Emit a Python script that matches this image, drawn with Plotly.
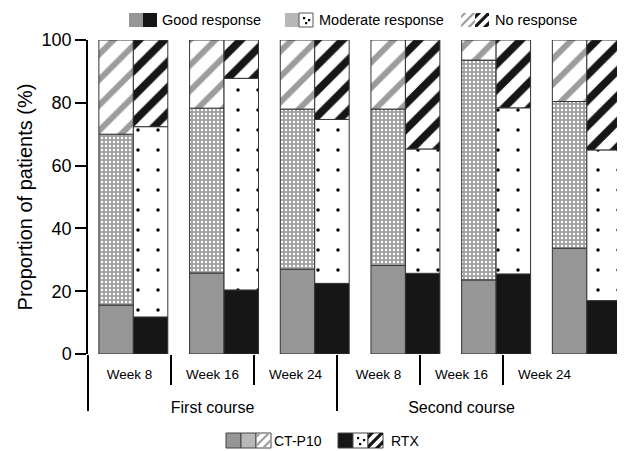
import numpy as np
import plotly.graph_objects as go

# ---------------- data ----------------
course_names = ["First course", "Second course"]
week_names = ["Week 8", "Week 16", "Week 24"]
ct_good = [15.6, 25.8, 27.0, 28.2, 23.6, 33.7]
ct_moderate = [54.4, 52.5, 51.0, 49.8, 70.0, 46.7]
ct_none = [30.0, 21.7, 22.0, 22.0, 6.4, 19.6]
rtx_good = [11.8, 20.4, 22.5, 25.7, 25.5, 17.0]
rtx_moderate = [60.6, 67.4, 52.2, 39.6, 52.9, 48.0]
rtx_none = [27.6, 12.2, 25.3, 34.7, 21.6, 35.0]
y_ticks = [0, 20, 40, 60, 80, 100]
y_title = "Proportion of patients (%)"
response_labels = ["Good response", "Moderate response", "No response"]
arm_labels = ["CT-P10", "RTX"]

# ---------------- geometry ----------------
OFF = 8  # page body margin
W, H = 625 - OFF, 451 - OFF
ML, MR, MT, MB = 88 - OFF, 1, 40 - OFF, 97
PW, PH = W - ML - MR, H - MT - MB
FONT = "Liberation Sans, Arial, Helvetica, sans-serif"
EDGE = "#333333"
GREY = "#969696"
BLACK = "#161616"
CELL = 83.0  # width of one label cell of the category table under the bars

xcat = [[c for c in course_names for _ in week_names], week_names * 2]
n_cells = len(xcat[1])
cell_centers = list(np.arange(n_cells) + 0.5)
cell_bounds = [i for i in range(1, n_cells) if i % len(week_names) != 0]
course_bounds = [i * len(week_names) for i in range(len(course_names))]
course_centers = [i * len(week_names) + len(week_names) / 2 for i in range(len(course_names))]

styles = {
    "ct_good": dict(color=GREY),
    "ct_mod": dict(color="#a0a0a0",
                   pattern=dict(shape=".", bgcolor="#a0a0a0", fgcolor="white",
                                fgopacity=1, size=4, solidity=0.3)),
    "ct_none": dict(color="white",
                    pattern=dict(shape="/", bgcolor="white", fgcolor="#9c9c9c",
                                 fgopacity=1, size=18, solidity=0.33)),
    "rtx_good": dict(color=BLACK),
    "rtx_mod": dict(color="white",
                    pattern=dict(shape=".", bgcolor="white", fgcolor="black",
                                 fgopacity=1, size=20, solidity=0.024)),
    "rtx_none": dict(color="white",
                     pattern=dict(shape="/", bgcolor="white", fgcolor=BLACK,
                                  fgopacity=1, size=18, solidity=0.42)),
}

fig = go.Figure()


def add_stack(values_list, keys, group):
    base = np.zeros(len(values_list[0]))
    for vals, key in zip(values_list, keys):
        vals = np.asarray(vals, dtype=float)
        m = dict(styles[key])
        m["line"] = dict(color=EDGE, width=1)
        fig.add_trace(go.Bar(x=xcat, y=vals, base=base.copy(), offsetgroup=group,
                             marker=m, showlegend=False, hoverinfo="skip"))
        base = base + vals


add_stack([ct_good, ct_moderate, ct_none], ["ct_good", "ct_mod", "ct_none"], "ct")
add_stack([rtx_good, rtx_moderate, rtx_none], ["rtx_good", "rtx_mod", "rtx_none"], "rtx")

# empty helper traces so the label axes exist
for ax in ["x2", "x3"]:
    fig.add_trace(go.Scatter(x=[], y=[], xaxis=ax, yaxis="y", showlegend=False,
                             hoverinfo="skip"))


# ---------------- legend helpers (reference pixel -> paper) ----------------
def px(x):
    return (x - OFF - ML) / PW


def py(y):
    return (MT + PH - (y - OFF)) / PH


shapes = []


def rect(x0, y0, x1, y1, fill, line=None):
    shapes.append(dict(type="rect", xref="paper", yref="paper",
                       x0=px(x0), x1=px(x1), y0=py(y1), y1=py(y0),
                       fillcolor=fill,
                       line=dict(width=1 if line else 0, color=line or fill)))


def clip_poly(poly, L, T, R, B):
    def clip(pts, inside, inter):
        out = []
        for i in range(len(pts)):
            cur, prev = pts[i], pts[i - 1]
            if inside(cur):
                if not inside(prev):
                    out.append(inter(prev, cur))
                out.append(cur)
            elif inside(prev):
                out.append(inter(prev, cur))
        return out

    def ix(xc):
        return lambda p, q: (xc, p[1] + (q[1] - p[1]) * (xc - p[0]) / (q[0] - p[0]))

    def iy(yc):
        return lambda p, q: (p[0] + (q[0] - p[0]) * (yc - p[1]) / (q[1] - p[1]), yc)

    pts = clip(poly, lambda p: p[0] >= L, ix(L))
    if pts:
        pts = clip(pts, lambda p: p[0] <= R, ix(R))
    if pts:
        pts = clip(pts, lambda p: p[1] >= T, iy(T))
    if pts:
        pts = clip(pts, lambda p: p[1] <= B, iy(B))
    return pts


def stripes(x0, y0, x1, y1, color, width, spacing, phase=0.0):
    s = x1 - x0
    c = phase
    while c < 2 * s + width:
        c1, c2 = c - width / 2, c + width / 2
        big = [(x0 + c1 + 50, y0 - 50), (x0 + c2 + 50, y0 - 50),
               (x0 + c2 - 50, y0 + 50), (x0 + c1 - 50, y0 + 50)]
        pts = clip_poly(big, x0, y0, x1, y1)
        if len(pts) >= 3:
            path = "M " + " L ".join(f"{px(a):.5f},{py(b):.5f}" for a, b in pts) + " Z"
            shapes.append(dict(type="path", xref="paper", yref="paper", path=path,
                               fillcolor=color, line=dict(width=0)))
        c += spacing


def dots(x0, y0, x1, y1):
    for (a, b) in [(x0 + 4, y0 + 4), (x1 - 5, y0 + 6), (x0 + 6, y1 - 5)]:
        rect(a, b, a + 2.2, b + 2.2, "black")


def swatch(kind, x0, y0, x1, y1, border=None):
    if kind == "ct_good":
        rect(x0, y0, x1, y1, GREY, border)
    elif kind == "rtx_good":
        rect(x0, y0, x1, y1, BLACK, border)
    elif kind == "ct_mod":
        rect(x0, y0, x1, y1, "#b8b8b8", border)
    elif kind == "rtx_mod":
        rect(x0, y0, x1, y1, "white", border or "#555")
        dots(x0, y0, x1, y1)
    elif kind == "ct_none":
        rect(x0, y0, x1, y1, "white", border)
        stripes(x0, y0, x1, y1, "#a0a0a0", 3.2, 9, phase=4)
    elif kind == "rtx_none":
        rect(x0, y0, x1, y1, "white", border)
        stripes(x0, y0, x1, y1, BLACK, 4.5, 10, phase=4)


annotations = []


def text(x, y, s, size):
    annotations.append(dict(xref="paper", yref="paper", x=px(x), y=py(y), text=s,
                            showarrow=False, xanchor="left", yanchor="middle",
                            font=dict(size=size, family=FONT, color="black")))


# top legend
top = [(129, "ct_good", "rtx_good", response_labels[0], 160),
       (285, "ct_mod", "rtx_mod", response_labels[1], 317),
       (461, "ct_none", "rtx_none", response_labels[2], 493)]
for x0, k1, k2, lab, tx in top:
    swatch(k1, x0, 13, x0 + 14, 27)
    swatch(k2, x0 + 14, 13, x0 + 28, 27)
    text(tx, 20, lab, 14.5)

# bottom legend
bottom = [(226, ["ct_good", "ct_mod", "ct_none"], arm_labels[0], 272),
          (338, ["rtx_good", "rtx_mod", "rtx_none"], arm_labels[1], 389)]
for x0, kinds, lab, tx in bottom:
    for i, k in enumerate(kinds):
        swatch(k, x0 + 15 * i, 433, x0 + 15 * (i + 1), 448, border="#444")
    text(tx, 440.5, lab, 14)

label_range = [0, PW / CELL]

fig.update_layout(
    width=W, height=H, autosize=False,
    margin=dict(l=ML, r=MR, t=MT, b=MB, pad=0),
    barmode="group", bargap=0.24, bargroupgap=0,
    plot_bgcolor="white", paper_bgcolor="white",
    showlegend=False,
    font=dict(family=FONT, color="black"),
    shapes=shapes, annotations=annotations,
    xaxis=dict(type="multicategory", range=[-0.5, 5.41],
               showline=False, showgrid=False, zeroline=False,
               ticks="", showticklabels=False, showdividers=False),
    xaxis2=dict(overlaying="x", anchor="y", side="bottom", type="linear",
                range=label_range, showline=False, showgrid=False, zeroline=False,
                tickmode="array", tickvals=cell_centers, ticktext=xcat[1],
                ticks="", ticklabelstandoff=10,
                tickfont=dict(size=13.5, family=FONT, color="black"),
                minor=dict(tickmode="array", tickvals=cell_bounds, ticks="outside",
                           ticklen=30, tickwidth=2, tickcolor="black")),
    xaxis3=dict(overlaying="x", anchor="y", side="bottom", type="linear",
                range=label_range, showline=False, showgrid=False, zeroline=False,
                tickmode="array", tickvals=course_centers, ticktext=course_names,
                ticks="", ticklabelstandoff=42,
                tickfont=dict(size=16, family=FONT, color="black"),
                minor=dict(tickmode="array", tickvals=course_bounds, ticks="outside",
                           ticklen=56, tickwidth=2, tickcolor="black")),
    yaxis=dict(range=[0, 100], tickvals=y_ticks, ticks="outside", ticklen=11,
               tickwidth=1.5, tickcolor="black", showline=True, linewidth=1.5,
               linecolor="black", showgrid=False, zeroline=False,
               tickfont=dict(size=18, family=FONT, color="black"),
               title=dict(text=y_title, font=dict(size=20, family=FONT, color="black"),
                          standoff=4)),
)

fig.write_html("out.html")
